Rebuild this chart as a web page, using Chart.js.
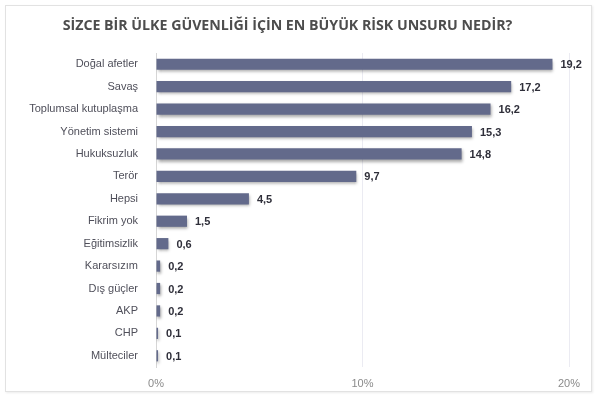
<!DOCTYPE html>
<html>
<head>
<meta charset="utf-8">
<script src="https://cdn.jsdelivr.net/npm/chart.js@4"></script>
<style>
    body {
        margin: 0;
        background: #ffffff;
    }
    .wrap {
        position: relative;
        width: 602px;
        height: 398px;
    }
    .frame {
        position: absolute;
        left: 5px;
        top: 5px;
        width: 585px;
        height: 385px;
        border: 1px solid #e2e2e2;
        box-shadow: 1px 1px 2px rgba(0, 0, 0, 0.08);
    }
    canvas {
        position: absolute;
        left: 0;
        top: 0;
    }
</style>
</head>
<body>
<div class="wrap">
    <div class="frame"></div>
    <canvas id="riskChart" width="602" height="398"></canvas>
</div>
<script>
const title = 'SİZCE BİR ÜLKE GÜVENLİĞİ İÇİN EN BÜYÜK RİSK UNSURU NEDİR?'
const categories = [
    'Doğal afetler',
    'Savaş',
    'Toplumsal kutuplaşma',
    'Yönetim sistemi',
    'Hukuksuzluk',
    'Terör',
    'Hepsi',
    'Fikrim yok',
    'Eğitimsizlik',
    'Kararsızım',
    'Dış güçler',
    'AKP',
    'CHP',
    'Mülteciler',
]
const values = [19.2, 17.2, 16.2, 15.3, 14.8, 9.7, 4.5, 1.5, 0.6, 0.2, 0.2, 0.2, 0.1, 0.1]
const xTicks = [0, 10, 20]

const narrow = "'Liberation Sans Narrow', 'Liberation Sans', sans-serif"

// gölge çubuklar için
const barShadow = {
    id: 'barShadow',
    beforeDatasetsDraw(chart) {
        let ctx = chart.ctx
        ctx.save()
        ctx.shadowColor = 'rgba(0, 0, 0, 0.35)'
        ctx.shadowBlur = 3
        ctx.shadowOffsetX = 1
        ctx.shadowOffsetY = 2
    },
    afterDatasetsDraw(chart) {
        chart.ctx.restore()
    }
}

// değer etiketleri
const valueLabels = {
    id: 'valueLabels',
    afterDatasetsDraw(chart) {
        let ctx = chart.ctx
        let meta = chart.getDatasetMeta(0)
        ctx.save()
        ctx.font = 'bold 11px ' + narrow
        ctx.fillStyle = '#2f2f3a'
        ctx.textAlign = 'left'
        ctx.textBaseline = 'middle'
        meta.data.forEach((bar, i) => {
            let txt = values[i].toFixed(1).replace('.', ',')
            ctx.fillText(txt, bar.x + 8, bar.y + 1)
        })
        ctx.restore()
    }
}

new Chart(document.getElementById('riskChart'), {
    type: 'bar',
    data: {
        labels: categories,
        datasets: [{
            data: values,
            backgroundColor: '#636a8b',
            borderWidth: 0,
            categoryPercentage: 0.5,
            barPercentage: 1
        }]
    },
    plugins: [barShadow, valueLabels],
    options: {
        indexAxis: 'y',
        responsive: false,
        animation: false,
        layout: {
            padding: { left: 6, right: 33, top: 0, bottom: 4 }
        },
        plugins: {
            legend: { display: false },
            tooltip: { enabled: false },
            title: {
                display: true,
                text: title,
                color: '#4d4d4d',
                font: { family: "'Open Sans', 'Noto Sans', sans-serif", size: 14.2, weight: 'bold' },
                padding: { top: 17, bottom: 19 }
            }
        },
        scales: {
            x: {
                min: 0,
                max: 20,
                afterBuildTicks(scale) {
                    scale.ticks = xTicks.map(v => ({ value: v }))
                },
                afterFit(scale) {
                    scale.height = 27
                },
                ticks: {
                    callback: v => v + '%',
                    color: '#8a8a8a',
                    font: { family: narrow, size: 11 },
                    padding: 10
                },
                grid: {
                    color: ctx => ctx.tick && ctx.tick.value === 0 ? 'rgba(0,0,0,0)' : '#ebebf2',
                    drawTicks: false
                },
                border: { display: false }
            },
            y: {
                afterFit(scale) {
                    scale.width = 150
                },
                ticks: {
                    color: '#4f4f5a',
                    font: { family: narrow, size: 11 },
                    padding: 10
                },
                grid: { display: false },
                border: { display: true, color: '#d6d6d6' }
            }
        }
    }
})
</script>
</body>
</html>
